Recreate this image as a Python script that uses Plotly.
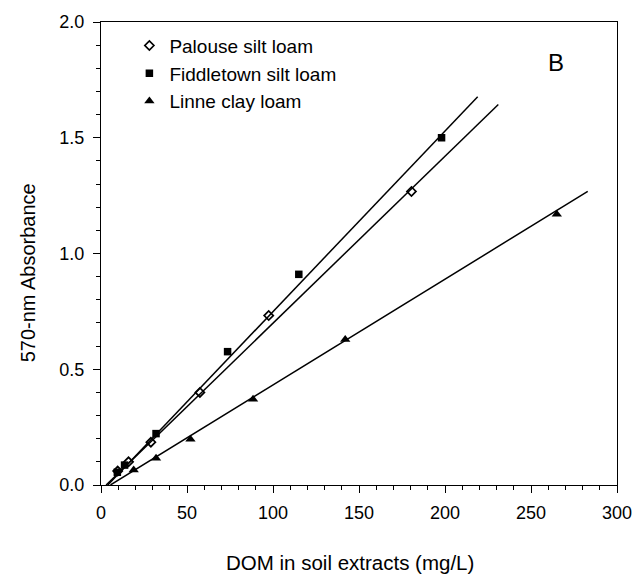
import plotly.graph_objects as go
import numpy as np

# Data
palouse_x = [9.7, 16, 29, 57.5, 97.5, 180.5]
palouse_y = [0.06, 0.10, 0.185, 0.40, 0.732, 1.268]
fiddle_x = [9.5, 13.7, 32, 73.6, 115, 198]
fiddle_y = [0.055, 0.086, 0.222, 0.576, 0.91, 1.50]
linne_x = [19, 32, 52, 88.4, 142, 265]
linne_y = [0.065, 0.116, 0.198, 0.37, 0.628, 1.17]

# Regression lines (slope, intercept, x extent)
fit_names = ["Palouse", "Fiddletown", "Linne"]
fit_slope = [0.00721, 0.00780, 0.00457]
fit_intercept = [-0.022, -0.031, -0.025]
fit_xmin = [3.0, 4.0, 5.5]
fit_xmax = [231.0, 219.0, 283.0]

x_title = "DOM in soil extracts (mg/L)"
y_title = "570-nm Absorbance"

font = "Liberation Sans, Arial, sans-serif"

fig = go.Figure()

for s, b, x0, x1 in zip(fit_slope, fit_intercept, fit_xmin, fit_xmax):
    xs = np.array([x0, x1])
    fig.add_trace(go.Scatter(x=xs, y=s * xs + b, mode="lines",
                             line=dict(color="black", width=1.5),
                             showlegend=False, hoverinfo="skip"))

fig.add_trace(go.Scatter(x=palouse_x, y=palouse_y, mode="markers",
                         name="Palouse silt loam",
                         marker=dict(symbol="diamond-open", size=7, color="black",
                                     line=dict(width=1.7, color="black"))))
fig.add_trace(go.Scatter(x=fiddle_x, y=fiddle_y, mode="markers",
                         name="Fiddletown silt loam",
                         marker=dict(symbol="square", size=7.5, color="black")))
fig.add_trace(go.Scatter(x=linne_x, y=linne_y, mode="markers",
                         name="Linne clay loam",
                         marker=dict(symbol="triangle-up", size=9, color="black")))

fig.add_annotation(text="B", x=0.902, y=0.945, xref="paper", yref="paper",
                   showarrow=False, font=dict(size=24, color="black", family=font))
fig.add_annotation(text=x_title, x=0.482, y=-0.168, xref="paper", yref="paper",
                   xanchor="center", yanchor="middle", showarrow=False,
                   font=dict(size=20.5, color="black", family=font))
fig.add_annotation(text=y_title, x=-0.1407, y=0.458, xref="paper", yref="paper",
                   xanchor="center", yanchor="middle", textangle=-90, showarrow=False,
                   font=dict(size=20, color="black", family=font))

fig.update_layout(
    width=644, height=583,
    margin=dict(l=101, r=17, t=20, b=98),
    paper_bgcolor="white", plot_bgcolor="white",
    font=dict(family=font, color="black", size=18),
    legend=dict(x=0.055, y=0.99, xanchor="left", yanchor="top",
                font=dict(size=19), bgcolor="rgba(0,0,0,0)",
                itemwidth=30),
    xaxis=dict(range=[0, 300], dtick=50, tick0=0, showgrid=False, zeroline=False,
               showline=True, linecolor="black", linewidth=1.2, mirror=True,
               ticks="outside", ticklen=7, tickcolor="black", tickwidth=1.2,
               ticklabelstandoff=4,
               minor=dict(dtick=10, ticks="outside", ticklen=4, tickcolor="black", showgrid=False)),
    yaxis=dict(range=[0, 2], dtick=0.5, tick0=0, tickformat=".1f", showgrid=False, zeroline=False,
               showline=True, linecolor="black", linewidth=1.2, mirror=True,
               ticks="outside", ticklen=7, tickcolor="black", tickwidth=1.2,
               ticklabelstandoff=5,
               minor=dict(dtick=0.1, ticks="outside", ticklen=4, tickcolor="black", showgrid=False)),
)

fig.write_html("out.html")
